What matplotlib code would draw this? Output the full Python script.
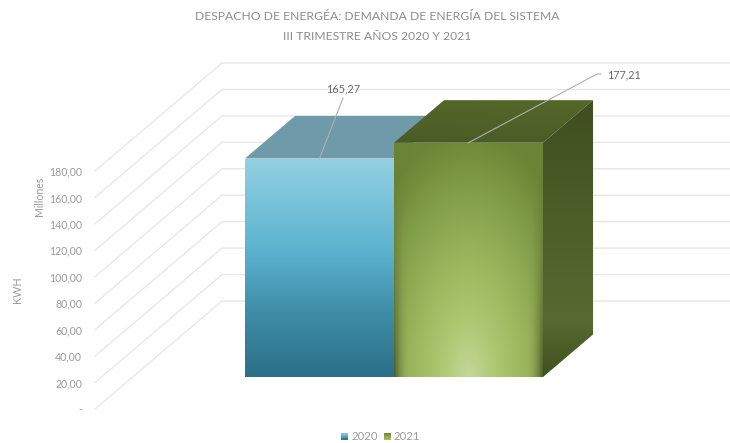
import numpy as np
import matplotlib
matplotlib.use("Agg")
import matplotlib.pyplot as plt
from matplotlib.colors import LinearSegmentedColormap as LSC
from matplotlib.patches import Polygon

plt.rcParams['font.family'] = ['Lato', 'DejaVu Sans']

years = ['2020', '2021']
demand = [165.27, 177.21]
value_labels = ['165,27', '177,21']
axis_values = [0, 20, 40, 60, 80, 100, 120, 140, 160, 180]
axis_labels = ['-', '20,00', '40,00', '60,00', '80,00', '100,00', '120,00', '140,00', '160,00', '180,00']
title_lines = ['DESPACHO DE ENERGÉA: DEMANDA DE ENERGÍA DEL SISTEMA', 'III TRIMESTRE AÑOS 2020 Y 2021']

# oblique projection of the 3-D chart box onto figure pixels
PX_PER_UNIT = 238.0 / 180
FRONT_X, FRONT_Y = 95.0, 409.0
BACK_DX, BACK_DY = 127.0, -108.0
BAR_START, BAR_W = 245 - 37.6, 149.0
D0, D1 = 0.296, 0.69


def pr(cat, value, depth):
    """cat: category position, value: data value, depth: 0 front .. 1 back"""
    return (BACK_DX * depth + BAR_START + BAR_W * cat,
            FRONT_Y + BACK_DY * depth - value * PX_PER_UNIT)


fig = plt.figure(figsize=(7.3, 4.43), dpi=100)
ax = fig.add_axes([0, 0, 1, 1])
ax.set_xlim(0, 730)
ax.set_ylim(443, 0)
ax.axis('off')

GRID = '#e8e8e8'
TXT = '#9a9a9a'
for v, lab in zip(axis_values, axis_labels):
    y0 = FRONT_Y - v * PX_PER_UNIT
    y1 = y0 + BACK_DY
    ax.plot([FRONT_X, FRONT_X + BACK_DX, 730], [y0, y1, y1], color=GRID, lw=1.0, zorder=1, solid_joinstyle='miter')
    ax.text(82, y0 + 1, lab, ha='right', va='center', fontsize=7.6, color=TXT)


def grad_poly(pts, img, zorder):
    xs = [p[0] for p in pts]
    ys = [p[1] for p in pts]
    im = ax.imshow(img, extent=[min(xs), max(xs), max(ys), min(ys)], aspect='auto', zorder=zorder,
                   interpolation='bilinear')
    poly = Polygon(pts, closed=True, transform=ax.transData, fc='none', ec='none')
    ax.add_patch(poly)
    im.set_clip_path(poly)
    ax.set_xlim(0, 730)
    ax.set_ylim(443, 0)


# 2020 bar
blue_cm = LSC.from_list('b', [(0, '#93d0e1'), (0.42, '#5cb3cf'), (0.7, '#3f8ea8'), (1, '#2a7087')])
v = demand[0]
fl, fr = pr(0, v, D0), pr(1, v, D0)
bl, br = pr(1, v, D1), pr(0, v, D1)
ax.add_patch(Polygon([fl, fr, bl, br], closed=True, fc='#6f9aa9', ec='none', zorder=3))
base = pr(0, 0, D0)[1]
g = np.linspace(0, 1, 256)[:, None]
grad_poly([fl, fr, (fr[0], base), (fl[0], base)], blue_cm(g), 4)

# 2021 bar
v = demand[1]
fl, fr = pr(1, v, D0), pr(2, v, D0)
bbl, bbr = pr(2, v, D1), pr(1, v, D1)
fbr = (fr[0], base)
bbase = pr(2, 0, D1)

# top face
X, Y = np.meshgrid(np.linspace(0, 1, 300), np.linspace(0, 1, 100))
top_cm = LSC.from_list('t', ['#546829', '#4a5c26'])
grad_poly([fl, fr, bbl, bbr], top_cm(Y * 0.9 + 0.1 * (1 - X)), 5)

# side face
side_cm = LSC.from_list('s', [(0, '#404e20'), (0.45, '#4c5f29'), (0.8, '#566a31'), (1, '#42511f')])
X, Y = np.meshgrid(np.linspace(0, 1, 60), np.linspace(0, 1, 300))
grad_poly([fr, bbl, bbase, fbr], side_cm(Y), 5)

# front face
front_cm = LSC.from_list('f', [(0, '#c4d899'), (0.22, '#aec873'), (0.42, '#9fba60'),
                               (0.75, '#839e49'), (1.0, '#6b8436')])
X, Y = np.meshgrid(np.linspace(-1, 1, 300), np.linspace(1, 0, 400))
R = np.sqrt((X / 1.6) ** 2 + (Y * 0.95) ** 2)
img = front_cm(np.clip(R, 0, 1))
edge = np.clip((np.abs(X) - 0.8) / 0.2, 0, 1) ** 2 * (1 - Y) ** 1.5
img[..., :3] = img[..., :3] * (1 - edge[..., None] * 0.45)
grad_poly([fl, fr, fbr, (fl[0], base)], img, 6)

# value leaders and labels
l0 = pr(0.5, demand[0], D0)
ax.plot([l0[0], 343], [l0[1], 98], color='#b0b0b0', lw=0.8, zorder=8)
ax.text(343, 89, value_labels[0], ha='center', va='center', fontsize=7.8, color='#6a6a6a', zorder=8)
l1 = pr(1.5, demand[1], D0)
ax.plot([l1[0], 597, 601], [l1[1], 74, 74], color='#b0b0b0', lw=0.8, zorder=8)
ax.text(607, 75, value_labels[1], ha='left', va='center', fontsize=7.8, color='#6a6a6a', zorder=8)

# title and axis titles
ax.text(377, 16, title_lines[0], ha='center', va='center', fontsize=8.7, color='#8c8c8c')
ax.text(377, 36, title_lines[1], ha='center', va='center', fontsize=8.7, color='#8c8c8c')
ax.text(39, 196, 'Millones', rotation=90, ha='center', va='center', fontsize=7.6, color=TXT)
ax.text(17, 290, 'KWH', rotation=90, ha='center', va='center', fontsize=7.8, color=TXT)

# legend
legend_cms = [blue_cm, LSC.from_list('lg', ['#6f8a3b', '#a5c266'])]
for x0, xt, yr, cm in zip([341, 384], [351, 393], years, legend_cms):
    ax.imshow(cm(np.linspace(0, 1, 32)[:, None]), extent=[x0, x0 + 7, 440, 433], aspect='auto', zorder=5)
    ax.text(xt, 437, yr, ha='left', va='center', fontsize=8.2, color=TXT)
ax.set_xlim(0, 730)
ax.set_ylim(443, 0)

fig.savefig('out.png', dpi=100, facecolor='white')
